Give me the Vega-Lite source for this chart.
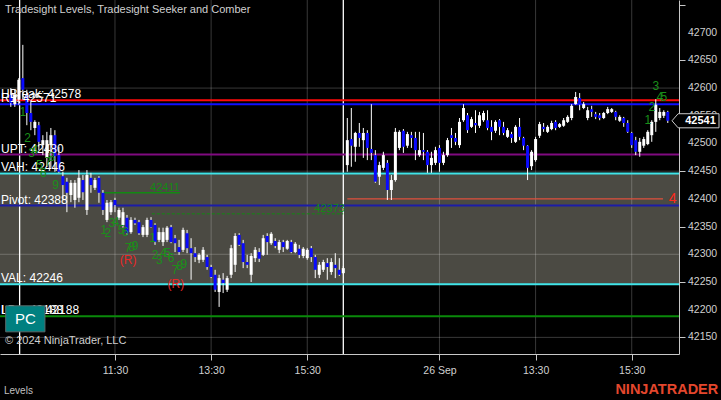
{
"$schema": "https://vega.github.io/schema/vega-lite/v6.json",
"width": 679, "height": 354,
"autosize": {"type": "none"},
"padding": {"left": 0, "top": 0, "right": 42, "bottom": 46},
"background": "#000000",
"config": {"view": {"stroke": null}, "font": "Liberation Sans"},
"datasets": {
"bars": [
{"t":-10,"o":42588,"h":42600,"l":42566,"c":42573},
{"t":-5,"o":42571,"h":42597,"l":42566,"c":42588},
{"t":0,"o":42579,"h":42618,"l":42570,"c":42615},
{"t":5,"o":42618,"h":42678,"l":42579,"c":42597},
{"t":10,"o":42588,"h":42597,"l":42533,"c":42555},
{"t":15,"o":42555,"h":42575,"l":42524,"c":42539},
{"t":20,"o":42528,"h":42542,"l":42515,"c":42539},
{"t":25,"o":42533,"h":42539,"l":42488,"c":42503},
{"t":30,"o":42497,"h":42515,"l":42479,"c":42506},
{"t":35,"o":42474,"h":42521,"l":42458,"c":42506},
{"t":40,"o":42497,"h":42528,"l":42456,"c":42515},
{"t":45,"o":42515,"h":42524,"l":42449,"c":42477},
{"t":50,"o":42479,"h":42494,"l":42447,"c":42449},
{"t":55,"o":42441,"h":42449,"l":42398,"c":42425},
{"t":60,"o":42431,"h":42438,"l":42376,"c":42411},
{"t":65,"o":42407,"h":42434,"l":42394,"c":42429},
{"t":70,"o":42398,"h":42434,"l":42384,"c":42429},
{"t":75,"o":42402,"h":42452,"l":42394,"c":42438},
{"t":80,"o":42434,"h":42443,"l":42398,"c":42412},
{"t":85,"o":42380,"h":42452,"l":42371,"c":42443},
{"t":90,"o":42438,"h":42447,"l":42411,"c":42425},
{"t":95,"o":42420,"h":42438,"l":42416,"c":42434},
{"t":100,"o":42438,"h":42441,"l":42393,"c":42411},
{"t":105,"o":42411,"h":42416,"l":42371,"c":42380},
{"t":110,"o":42362,"h":42398,"l":42358,"c":42393},
{"t":115,"o":42376,"h":42398,"l":42371,"c":42394},
{"t":120,"o":42398,"h":42402,"l":42376,"c":42389},
{"t":125,"o":42366,"h":42384,"l":42362,"c":42380},
{"t":130,"o":42353,"h":42384,"l":42348,"c":42376},
{"t":135,"o":42366,"h":42371,"l":42335,"c":42338},
{"t":140,"o":42340,"h":42367,"l":42337,"c":42362},
{"t":145,"o":42362,"h":42366,"l":42353,"c":42356},
{"t":150,"o":42358,"h":42362,"l":42335,"c":42338},
{"t":155,"o":42335,"h":42353,"l":42331,"c":42349},
{"t":160,"o":42335,"h":42366,"l":42331,"c":42362},
{"t":165,"o":42362,"h":42367,"l":42348,"c":42349},
{"t":170,"o":42353,"h":42356,"l":42317,"c":42322},
{"t":175,"o":42326,"h":42348,"l":42322,"c":42340},
{"t":180,"o":42322,"h":42348,"l":42315,"c":42340},
{"t":185,"o":42326,"h":42351,"l":42322,"c":42348},
{"t":190,"o":42349,"h":42353,"l":42320,"c":42322},
{"t":195,"o":42329,"h":42335,"l":42304,"c":42320},
{"t":200,"o":42313,"h":42326,"l":42299,"c":42304},
{"t":205,"o":42308,"h":42348,"l":42304,"c":42344},
{"t":210,"o":42338,"h":42344,"l":42302,"c":42311},
{"t":215,"o":42311,"h":42329,"l":42254,"c":42302},
{"t":220,"o":42302,"h":42313,"l":42286,"c":42295},
{"t":225,"o":42290,"h":42302,"l":42284,"c":42299},
{"t":230,"o":42290,"h":42313,"l":42286,"c":42308},
{"t":235,"o":42295,"h":42299,"l":42272,"c":42277},
{"t":240,"o":42277,"h":42281,"l":42257,"c":42259},
{"t":245,"o":42263,"h":42272,"l":42232,"c":42236},
{"t":250,"o":42232,"h":42263,"l":42205,"c":42257},
{"t":255,"o":42254,"h":42266,"l":42230,"c":42248},
{"t":260,"o":42236,"h":42261,"l":42232,"c":42257},
{"t":265,"o":42263,"h":42317,"l":42257,"c":42311},
{"t":270,"o":42281,"h":42338,"l":42268,"c":42333},
{"t":275,"o":42335,"h":42338,"l":42315,"c":42317},
{"t":280,"o":42320,"h":42326,"l":42275,"c":42286},
{"t":285,"o":42286,"h":42299,"l":42275,"c":42281},
{"t":290,"o":42263,"h":42302,"l":42250,"c":42297},
{"t":295,"o":42293,"h":42313,"l":42286,"c":42308},
{"t":300,"o":42304,"h":42311,"l":42286,"c":42292},
{"t":305,"o":42299,"h":42335,"l":42297,"c":42329},
{"t":310,"o":42333,"h":42338,"l":42299,"c":42322},
{"t":315,"o":42320,"h":42340,"l":42317,"c":42337},
{"t":320,"o":42324,"h":42329,"l":42311,"c":42315},
{"t":325,"o":42308,"h":42326,"l":42302,"c":42322},
{"t":330,"o":42322,"h":42326,"l":42304,"c":42313},
{"t":335,"o":42310,"h":42326,"l":42308,"c":42324},
{"t":340,"o":42322,"h":42326,"l":42302,"c":42304},
{"t":345,"o":42304,"h":42322,"l":42302,"c":42319},
{"t":350,"o":42310,"h":42317,"l":42293,"c":42299},
{"t":355,"o":42297,"h":42313,"l":42293,"c":42310},
{"t":360,"o":42293,"h":42311,"l":42290,"c":42308},
{"t":365,"o":42311,"h":42315,"l":42286,"c":42295},
{"t":370,"o":42295,"h":42299,"l":42257,"c":42272},
{"t":375,"o":42263,"h":42286,"l":42257,"c":42281},
{"t":380,"o":42272,"h":42290,"l":42268,"c":42286},
{"t":385,"o":42284,"h":42293,"l":42254,"c":42277},
{"t":390,"o":42268,"h":42293,"l":42263,"c":42286},
{"t":395,"o":42281,"h":42302,"l":42257,"c":42275},
{"t":400,"o":42272,"h":42293,"l":42261,"c":42263},
{"t":405,"o":42266,"h":42279,"l":42264,"c":42275},
{"t":410,"o":42461,"h":42546,"l":42449,"c":42506},
{"t":415,"o":42508,"h":42564,"l":42458,"c":42496},
{"t":420,"o":42494,"h":42521,"l":42467,"c":42519},
{"t":425,"o":42519,"h":42537,"l":42494,"c":42510},
{"t":430,"o":42506,"h":42528,"l":42474,"c":42519},
{"t":435,"o":42519,"h":42524,"l":42470,"c":42492},
{"t":440,"o":42490,"h":42571,"l":42470,"c":42483},
{"t":445,"o":42479,"h":42488,"l":42429,"c":42431},
{"t":450,"o":42440,"h":42467,"l":42425,"c":42461},
{"t":455,"o":42456,"h":42485,"l":42452,"c":42479},
{"t":460,"o":42465,"h":42470,"l":42398,"c":42416},
{"t":465,"o":42416,"h":42443,"l":42398,"c":42434},
{"t":470,"o":42434,"h":42528,"l":42431,"c":42521},
{"t":475,"o":42492,"h":42524,"l":42488,"c":42521},
{"t":480,"o":42523,"h":42526,"l":42483,"c":42494},
{"t":485,"o":42496,"h":42521,"l":42492,"c":42517},
{"t":490,"o":42515,"h":42521,"l":42492,"c":42510},
{"t":495,"o":42510,"h":42521,"l":42470,"c":42488},
{"t":500,"o":42479,"h":42521,"l":42476,"c":42488},
{"t":505,"o":42488,"h":42519,"l":42470,"c":42485},
{"t":510,"o":42485,"h":42488,"l":42447,"c":42461},
{"t":515,"o":42461,"h":42485,"l":42447,"c":42474},
{"t":520,"o":42465,"h":42494,"l":42461,"c":42488},
{"t":525,"o":42492,"h":42497,"l":42449,"c":42465},
{"t":530,"o":42465,"h":42485,"l":42461,"c":42479},
{"t":535,"o":42479,"h":42510,"l":42476,"c":42506},
{"t":540,"o":42515,"h":42528,"l":42492,"c":42510},
{"t":545,"o":42510,"h":42519,"l":42497,"c":42503},
{"t":550,"o":42497,"h":42546,"l":42492,"c":42539},
{"t":555,"o":42542,"h":42571,"l":42539,"c":42564},
{"t":560,"o":42551,"h":42555,"l":42519,"c":42524},
{"t":565,"o":42530,"h":42548,"l":42528,"c":42544},
{"t":570,"o":42537,"h":42560,"l":42519,"c":42533},
{"t":575,"o":42532,"h":42557,"l":42528,"c":42551},
{"t":580,"o":42542,"h":42559,"l":42539,"c":42555},
{"t":585,"o":42542,"h":42560,"l":42524,"c":42528},
{"t":590,"o":42530,"h":42542,"l":42506,"c":42521},
{"t":595,"o":42523,"h":42542,"l":42519,"c":42539},
{"t":600,"o":42542,"h":42544,"l":42515,"c":42530},
{"t":605,"o":42530,"h":42539,"l":42515,"c":42519},
{"t":610,"o":42512,"h":42528,"l":42510,"c":42524},
{"t":615,"o":42517,"h":42521,"l":42501,"c":42510},
{"t":620,"o":42503,"h":42533,"l":42501,"c":42530},
{"t":625,"o":42530,"h":42546,"l":42506,"c":42512},
{"t":630,"o":42510,"h":42512,"l":42488,"c":42496},
{"t":635,"o":42496,"h":42497,"l":42434,"c":42456},
{"t":640,"o":42459,"h":42488,"l":42452,"c":42485},
{"t":645,"o":42470,"h":42512,"l":42467,"c":42508},
{"t":650,"o":42514,"h":42539,"l":42510,"c":42535},
{"t":655,"o":42530,"h":42537,"l":42521,"c":42526},
{"t":660,"o":42521,"h":42533,"l":42519,"c":42530},
{"t":665,"o":42526,"h":42541,"l":42524,"c":42537},
{"t":670,"o":42539,"h":42542,"l":42524,"c":42528},
{"t":675,"o":42530,"h":42537,"l":42528,"c":42535},
{"t":680,"o":42532,"h":42546,"l":42530,"c":42542},
{"t":685,"o":42539,"h":42551,"l":42537,"c":42548},
{"t":690,"o":42546,"h":42571,"l":42542,"c":42568},
{"t":695,"o":42571,"h":42593,"l":42570,"c":42584},
{"t":700,"o":42582,"h":42591,"l":42560,"c":42570},
{"t":705,"o":42564,"h":42575,"l":42562,"c":42571},
{"t":710,"o":42546,"h":42566,"l":42542,"c":42560},
{"t":715,"o":42562,"h":42568,"l":42548,"c":42557},
{"t":720,"o":42553,"h":42557,"l":42544,"c":42548},
{"t":725,"o":42551,"h":42555,"l":42542,"c":42546},
{"t":730,"o":42546,"h":42557,"l":42544,"c":42555},
{"t":735,"o":42555,"h":42566,"l":42553,"c":42562},
{"t":740,"o":42557,"h":42564,"l":42555,"c":42562},
{"t":745,"o":42557,"h":42559,"l":42542,"c":42548},
{"t":750,"o":42541,"h":42551,"l":42539,"c":42548},
{"t":755,"o":42546,"h":42548,"l":42530,"c":42537},
{"t":760,"o":42537,"h":42542,"l":42519,"c":42521},
{"t":765,"o":42519,"h":42521,"l":42492,"c":42497},
{"t":770,"o":42506,"h":42512,"l":42479,"c":42485},
{"t":775,"o":42485,"h":42510,"l":42476,"c":42503},
{"t":780,"o":42496,"h":42512,"l":42492,"c":42508},
{"t":785,"o":42499,"h":42524,"l":42497,"c":42521},
{"t":790,"o":42515,"h":42542,"l":42503,"c":42539},
{"t":795,"o":42539,"h":42580,"l":42521,"c":42570},
{"t":800,"o":42546,"h":42564,"l":42542,"c":42557},
{"t":805,"o":42550,"h":42560,"l":42546,"c":42557},
{"t":810,"o":42557,"h":42559,"l":42537,"c":42541}
],
"levels": [
{"name":"HBreak","v":42578},{"name":"R1","v":42571},{"name":"UPT","v":42480},{"name":"VAH","v":42446},{"name":"Pivot","v":42388},{"name":"VAL","v":42246},{"name":"LBreak","v":42188}
],
"levelLabels": [
{"lab":"HBreak: 42578","v":42578},{"lab":"R1: 42571","v":42571},{"lab":"UPT: 42480","v":42480},{"lab":"VAH: 42446","v":42446},{"lab":"Pivot: 42388","v":42388},{"lab":"VAL: 42246","v":42246},{"lab":"LBreak: 42188","v":42188},{"lab":"Low: 42188","v":42188}
],
"yticks": [{"v":42150},{"v":42200},{"v":42250},{"v":42300},{"v":42350},{"v":42400},{"v":42450},{"v":42500},{"v":42550},{"v":42600},{"v":42650},{"v":42700}],
"counts": [
{"t":5,"p":42557,"txt":"1","k":"g"},{"t":11,"p":42510,"txt":"2","k":"g"},{"t":16,"p":42483,"txt":"3","k":"g"},{"t":20,"p":42488,"txt":"4","k":"g"},{"t":25.5,"p":42461,"txt":"5","k":"g"},{"t":30.5,"p":42446,"txt":"6","k":"g"},{"t":36.5,"p":42467,"txt":"7","k":"g"},{"t":41,"p":42476,"txt":"8","k":"g"},{"t":46,"p":42425,"txt":"9","k":"g"},
{"t":106,"p":42344,"txt":"1","k":"g"},{"t":111,"p":42339,"txt":"2","k":"g"},{"t":116,"p":42356,"txt":"3","k":"g"},{"t":121,"p":42358,"txt":"4","k":"g"},{"t":127.5,"p":42344,"txt":"5","k":"g"},{"t":132.5,"p":42340,"txt":"6","k":"g"},{"t":136.5,"p":42311,"txt":"7","k":"g"},{"t":141,"p":42313,"txt":"8","k":"g"},{"t":145,"p":42315,"txt":"9","k":"g"},{"t":136.5,"p":42290,"txt":"(R)","k":"r"},
{"t":167,"p":42329,"txt":"1","k":"g"},{"t":170,"p":42299,"txt":"2","k":"g"},{"t":175.5,"p":42290,"txt":"3","k":"g"},{"t":180.5,"p":42303,"txt":"4","k":"g"},{"t":185.5,"p":42303,"txt":"5","k":"g"},{"t":190,"p":42293,"txt":"6","k":"g"},{"t":195,"p":42272,"txt":"7","k":"g"},{"t":201,"p":42278,"txt":"8","k":"g"},{"t":206,"p":42282,"txt":"9","k":"g"},{"t":196,"p":42246,"txt":"(R)","k":"r"},
{"t":785,"p":42542,"txt":"1","k":"g"},{"t":790,"p":42565,"txt":"2","k":"g"},{"t":795,"p":42603,"txt":"3","k":"g"},{"t":800,"p":42584,"txt":"4","k":"g"},{"t":805,"p":42584,"txt":"5","k":"g"}
]
},
"layer": [
{"data": {"values": [{"lo": 42246, "hi": 42446}]},
 "mark": {"type": "rect", "color": "#4b4a43"},
 "encoding": {"y": {"field": "hi", "type": "quantitative", "scale": {"domain": [42120, 42759], "nice": false, "zero": false, "padding": 0},
   "axis": {"orient": "right", "values": [42150,42200,42250,42300,42350,42400,42450,42500,42550,42600,42650,42700,42750], "labels": false, "grid": false, "domainColor": "#c8c8c8", "tickColor": "#c8c8c8", "tickSize": 6, "title": null}},
  "y2": {"field": "lo"}}},
{"data": {"values": [{"v": 42150}, {"v": 42300}, {"v": 42450}, {"v": 42600}]},
 "mark": {"type": "rule", "color": "#ffffff", "opacity": 0.22, "strokeWidth": 1},
 "encoding": {"y": {"field": "v", "type": "quantitative"}}},
{"data": {"values": [{"t": 120}, {"t": 240}, {"t": 360}, {"t": 525}, {"t": 645}, {"t": 765}]},
 "mark": {"type": "rule", "color": "#ffffff", "opacity": 0.22, "strokeWidth": 1},
 "encoding": {"x": {"field": "t", "type": "quantitative", "scale": {"domain": [-23.5, 824], "nice": false, "zero": false, "padding": 0},
   "axis": {"orient": "bottom", "values": [120, 240, 360, 525, 645, 765], "labelExpr": "datum.value==120?'11:30':datum.value==240?'13:30':datum.value==360?'15:30':datum.value==525?'26 Sep':datum.value==645?'13:30':'15:30'", "grid": false, "domainColor": "#c8c8c8", "tickColor": "#c8c8c8", "tickSize": 6, "labelColor": "#d0d0d0", "labelFontSize": 10.5, "labelPadding": 5, "title": null, "labelFlush": false, "labelOverlap": false}}}},
{"data": {"values": [{"t": 1}, {"t": 405}]},
 "mark": {"type": "rule", "color": "#ffffff", "strokeWidth": 1.3},
 "encoding": {"x": {"field": "t", "type": "quantitative"}}},
{"data": {"name": "levels"},
 "mark": {"type": "rule"},
 "encoding": {
  "y": {"field": "v", "type": "quantitative"},
  "color": {"field": "name", "type": "nominal", "legend": null, "scale": {"domain": ["HBreak","R1","UPT","VAH","Pivot","VAL","LBreak"], "range": ["#ff0a0a","#1010ff","#800a80","#40e4e8","#1c1ca8","#40e4e8","#0a8a0a"]}},
  "strokeWidth": {"field": "name", "type": "nominal", "legend": null, "scale": {"domain": ["HBreak","R1","UPT","VAH","Pivot","VAL","LBreak"], "range": [2, 2, 1.5, 2, 1.5, 2, 1.5]}}}},
{"data": {"values": [{"t1": 105, "t2": 201, "p": 42411}]},
 "mark": {"type": "rule", "color": "#128a12", "strokeWidth": 1.5},
 "encoding": {"x": {"field": "t1", "type": "quantitative"}, "x2": {"field": "t2"}, "y": {"field": "p", "type": "quantitative"}}},
{"data": {"values": [{"t1": 166, "t2": 405, "p": 42373}]},
 "mark": {"type": "rule", "color": "#128a12", "strokeWidth": 1, "strokeDash": [3, 2]},
 "encoding": {"x": {"field": "t1", "type": "quantitative"}, "x2": {"field": "t2"}, "y": {"field": "p", "type": "quantitative"}}},
{"data": {"values": [{"t1": 410, "t2": 804, "p": 42400}]},
 "mark": {"type": "rule", "color": "#e0503c", "strokeWidth": 1.3},
 "encoding": {"x": {"field": "t1", "type": "quantitative"}, "x2": {"field": "t2"}, "y": {"field": "p", "type": "quantitative"}}},
{"data": {"name": "bars"},
 "mark": {"type": "rule", "color": "#ffffff", "strokeWidth": 1},
 "encoding": {
  "x": {"field": "t", "type": "quantitative"},
  "y": {"field": "l", "type": "quantitative"},
  "y2": {"field": "h"}}},
{"data": {"name": "bars"},
 "mark": {"type": "bar", "width": 3},
 "encoding": {
  "x": {"field": "t", "type": "quantitative"},
  "y": {"field": "o", "type": "quantitative"},
  "y2": {"field": "c"},
  "color": {"condition": {"test": "datum.c >= datum.o", "value": "#ffffff"}, "value": "#0a0aff"}}},
{"data": {"name": "yticks"},
 "mark": {"type": "text", "align": "left", "baseline": "middle", "dx": 9, "fontSize": 10.5, "color": "#d0d0d0"},
 "encoding": {"x": {"datum": 824, "type": "quantitative"}, "y": {"field": "v", "type": "quantitative"}, "text": {"field": "v", "type": "quantitative", "format": "d"}}},
{"data": {"name": "levelLabels"},
 "mark": {"type": "text", "align": "left", "baseline": "alphabetic", "dx": 1, "dy": -2, "fontSize": 12, "color": "#ffffff"},
 "encoding": {"x": {"datum": -23.5, "type": "quantitative"}, "y": {"field": "v", "type": "quantitative"}, "text": {"field": "lab"}}},
{"data": {"values": [{"t": 201, "p": 42411, "txt": "42411"}, {"t": 407, "p": 42373, "txt": "42373"}]},
 "mark": {"type": "text", "align": "right", "baseline": "alphabetic", "dy": -2, "fontSize": 11, "color": "#128a12"},
 "encoding": {"x": {"field": "t", "type": "quantitative"}, "y": {"field": "p", "type": "quantitative"}, "text": {"field": "txt"}}},
{"data": {"name": "counts"},
 "transform": [{"filter": "datum.k == 'g'"}],
 "mark": {"type": "text", "align": "center", "baseline": "middle", "fontSize": 12, "color": "#1a8f1a"},
 "encoding": {"x": {"field": "t", "type": "quantitative"}, "y": {"field": "p", "type": "quantitative"}, "text": {"field": "txt"}}},
{"data": {"name": "counts"},
 "transform": [{"filter": "datum.k == 'r'"}],
 "mark": {"type": "text", "align": "center", "baseline": "middle", "fontSize": 12, "color": "#e82828"},
 "encoding": {"x": {"field": "t", "type": "quantitative"}, "y": {"field": "p", "type": "quantitative"}, "text": {"field": "txt"}}},
{"data": {"values": [{"t": 816, "p": 42400, "txt": "4"}]},
 "mark": {"type": "text", "align": "center", "baseline": "middle", "fontSize": 14, "color": "#ff2a1a"},
 "encoding": {"x": {"field": "t", "type": "quantitative"}, "y": {"field": "p", "type": "quantitative"}, "text": {"field": "txt"}}},
{"data": {"values": [{}]},
 "mark": {"type": "text", "align": "left", "baseline": "middle", "dx": 5, "dy": 10, "fontSize": 11, "color": "#d0d0d0", "text": "Tradesight Levels, Tradesight Seeker and Comber"},
 "encoding": {"x": {"datum": -23.5, "type": "quantitative"}, "y": {"datum": 42759, "type": "quantitative"}}},
{"data": {"values": [{}]},
 "mark": {"type": "text", "align": "left", "baseline": "middle", "dx": 5, "fontSize": 11, "color": "#d0d0d0", "text": "© 2024 NinjaTrader, LLC"},
 "encoding": {"x": {"datum": -23.5, "type": "quantitative"}, "y": {"datum": 42143, "type": "quantitative"}}},
{"data": {"values": [{}]},
 "mark": {"type": "text", "align": "left", "baseline": "middle", "dx": 4, "fontSize": 10, "color": "#c0c0c0", "text": "Levels"},
 "encoding": {"x": {"datum": -23.5, "type": "quantitative"}, "y": {"datum": 42054, "type": "quantitative"}}},
{"data": {"values": [{}]},
 "mark": {"type": "text", "align": "right", "baseline": "middle", "fontSize": 14.5, "fontWeight": "bold", "color": "#e4472d", "text": "NINJATRADER"},
 "encoding": {"x": {"datum": 873, "type": "quantitative"}, "y": {"datum": 42055, "type": "quantitative"}}},
{"data": {"values": [{}]},
 "mark": {"type": "rect", "color": "#008080", "stroke": "#5a6a6a", "strokeWidth": 1},
 "encoding": {"x": {"datum": -16.4, "type": "quantitative"}, "x2": {"datum": 32.6}, "y": {"datum": 42207, "type": "quantitative"}, "y2": {"datum": 42160}}},
{"data": {"values": [{}]},
 "mark": {"type": "text", "align": "center", "baseline": "middle", "fontSize": 15, "color": "#ffffff", "text": "PC"},
 "encoding": {"x": {"datum": 8.1, "type": "quantitative"}, "y": {"datum": 42184, "type": "quantitative"}}},
{"data": {"values": [{}]},
 "mark": {"type": "point", "filled": true, "color": "#000000", "stroke": "#c8c8c8", "strokeWidth": 1, "opacity": 1, "size": 2209, "shape": "M -1 0 L -0.74 -0.3 L 1 -0.3 L 1 0.3 L -0.74 0.3 Z"},
 "encoding": {"x": {"datum": 844.6, "type": "quantitative"}, "y": {"datum": 42541, "type": "quantitative"}}},
{"data": {"values": [{}]},
 "mark": {"type": "text", "align": "center", "baseline": "middle", "dx": 5, "fontSize": 11, "fontWeight": "bold", "color": "#ffffff", "text": "42541"},
 "encoding": {"x": {"datum": 844.6, "type": "quantitative"}, "y": {"datum": 42541, "type": "quantitative"}}}
]
}
